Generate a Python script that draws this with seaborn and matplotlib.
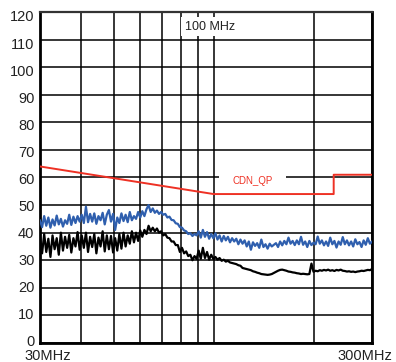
import numpy as np
import pandas as pd
import matplotlib
matplotlib.use("Agg")
import matplotlib.pyplot as plt
import matplotlib.transforms as mtransforms
import seaborn as sns

# ---------------- data ----------------
blue_db = [
    44.5, 42.0, 46.0, 42.5, 45.5, 41.8, 44.8, 42.6, 46.2, 43.0, 45.0, 42.2, 44.5, 43.2, 46.5, 42.8, 45.8, 43.5, 46.0, 44.0,
    46.5, 43.5, 49.4, 43.8, 46.8, 44.0, 47.0, 43.2, 46.0, 44.5, 47.2, 43.0, 46.5, 48.2, 44.0, 46.8,
    41.0, 45.5, 43.5, 47.0, 44.2, 46.5, 43.8, 47.5, 44.5, 46.0, 45.0, 47.5, 45.5,
    47.8, 46.0, 48.5, 50.0, 47.5, 48.8, 47.2,
    48.0, 46.8, 47.5, 46.5, 46.8, 45.5, 45.8, 44.6, 44.5, 43.4, 43.2, 42.0, 41.8, 40.8, 40.5, 39.5, 39.8, 38.8, 39.5, 39.0,
    40.5, 38.2, 41.0, 38.5, 40.2, 37.8, 39.5, 38.0,
    39.8, 37.5, 39.0, 36.8, 38.8, 37.2, 38.5, 36.5, 38.0, 36.8, 37.8, 35.8, 37.5,
    36.0, 37.2, 35.0, 36.8, 33.8, 36.5, 35.2, 36.2, 34.5, 37.5, 34.8, 35.8, 34.2, 36.0, 35.0, 35.6,
    36.2, 34.8, 36.8, 35.4, 37.0, 35.8, 38.2, 36.0, 37.0,
    35.5, 37.2, 35.8, 38.5, 35.6, 36.8, 34.8, 37.0, 35.5, 36.4, 35.8, 38.6, 36.0, 37.2, 35.4, 36.8, 35.2, 38.2, 35.8, 37.0,
    34.6, 36.8, 35.6, 38.4, 35.8, 37.2, 35.4, 36.8, 35.0, 37.6, 35.8, 36.6, 34.8, 37.2, 35.6, 38.0, 36.0, 36.8,
]

black_db = [
    38.5, 32.5, 39.5, 33.0, 37.8, 31.2, 39.0, 34.0, 38.0, 32.0, 40.0, 33.5, 38.5, 34.5, 39.2, 32.8, 38.0, 35.0, 40.2, 33.8,
    39.0, 34.5, 40.0, 33.0, 38.5, 34.8, 39.5, 32.5, 38.2, 35.0, 40.5, 33.2, 39.0, 34.0, 38.8, 32.8,
    38.0, 33.5, 39.5, 34.2, 40.0, 35.0, 39.0, 36.0, 40.5, 36.5, 40.0, 37.0, 40.8,
    38.5, 41.0, 39.5, 42.5, 40.5, 41.8, 40.5,
    41.5, 40.0, 40.5, 39.0, 39.5, 38.2, 38.0, 36.8, 36.8, 35.5, 35.5, 33.0, 34.5, 32.5, 33.2, 31.5, 32.0, 30.0, 31.5, 30.5,
    33.5, 30.5, 34.5, 30.8, 33.0, 30.2, 32.0, 30.5,
    31.2, 30.2, 30.8, 29.8, 30.2, 29.5, 29.8, 29.2, 29.0, 28.8, 28.6, 28.2, 28.0,
    27.2, 27.0, 26.8, 26.6, 26.4, 26.0, 25.8, 25.5, 25.3, 25.0, 24.9, 24.8, 24.7, 24.8, 25.0, 25.4,
    25.8, 26.2, 26.5, 26.6, 26.4, 26.2, 25.9, 25.8, 25.6,
    25.5, 25.3, 25.2, 25.0, 25.1, 25.0, 24.9, 25.0, 28.8, 25.8, 26.2, 26.0, 26.4, 26.2, 26.5, 26.3, 26.6, 26.2, 26.4, 26.1,
    26.5, 26.3, 26.6, 26.2, 26.1, 25.9, 26.0, 25.8, 25.9, 25.7, 25.9, 26.0, 26.2, 26.1, 26.3, 26.5, 26.4, 26.8,
]

limit_freq = [30, 100, 230, 230, 300]
limit_db = [64, 54, 54, 61, 61]

y_ticks = list(range(0, 121, 10))
x_grid_freqs = [40, 50, 60, 70, 80, 90, 100, 200]
x_tick_freqs = [30, 300]
x_tick_labels = ["30MHz", "300MHz"]

# ---------------- frames ----------------
blue_freq = np.geomspace(30, 300, len(blue_db))
black_freq = np.geomspace(30, 300, len(black_db))
df_blue = pd.DataFrame({"freq": blue_freq, "level": blue_db})
df_black = pd.DataFrame({"freq": black_freq, "level": black_db})
df_limit = pd.DataFrame({"freq": limit_freq, "level": limit_db})

sns.set_style("white")
plt.rcParams["font.family"] = ["Liberation Sans", "DejaVu Sans"]

fig = plt.figure(figsize=(3.96, 3.62), dpi=100)
ax = fig.add_axes([40 / 396, 19 / 362, 332 / 396, 331 / 362])

sns.lineplot(data=df_black, x="freq", y="level", color="black", lw=1.6,
             estimator=None, sort=False, ax=ax, zorder=3)
sns.lineplot(data=df_blue, x="freq", y="level", color="#2f5fae", lw=1.6,
             estimator=None, sort=False, ax=ax, zorder=3)
sns.lineplot(data=df_limit, x="freq", y="level", color="#ee3124", lw=1.4,
             estimator=None, sort=False, ax=ax, zorder=6)

ax.set_xscale("log")
ax.set_xlim(30, 300)
ax.set_ylim(0, 120)
ax.set_xticks(x_tick_freqs)
ax.set_xticklabels(x_tick_labels)
ax.set_xticks(x_grid_freqs, minor=True)
ax.xaxis.set_minor_formatter(matplotlib.ticker.NullFormatter())
ax.set_yticks(y_ticks)
ax.set_yticklabels([str(v) for v in y_ticks])
ax.set_xlabel("")
ax.set_ylabel("")

ax.grid(True, which="both", axis="both", color="black", lw=1.1, zorder=1)
ax.set_axisbelow(True)
ax.tick_params(axis="both", which="both", length=0, labelsize=10.5,
               labelcolor="#222222")
ax.tick_params(axis="y", pad=4)
ax.tick_params(axis="x", pad=4)

for side in ["left", "bottom", "right"]:
    ax.spines[side].set_color("black")
    ax.spines[side].set_linewidth(2.0)
ax.spines["top"].set_color("#333333")
ax.spines["top"].set_linewidth(1.6)

# label offsets (reference labels are slightly compressed vertically)
for lab, v in zip(ax.get_yticklabels(), y_ticks):
    off = 4 - (120 - v) / 120 * 6
    lab.set_transform(lab.get_transform() +
                      mtransforms.ScaledTranslation(0, -off / 100, fig.dpi_scale_trans))
xl = ax.get_xticklabels()
xl[0].set_transform(xl[0].get_transform() + mtransforms.ScaledTranslation(8 / 100, 0, fig.dpi_scale_trans))
xl[1].set_transform(xl[1].get_transform() + mtransforms.ScaledTranslation(-7 / 100, 0, fig.dpi_scale_trans))

ax.text(97.3, 114.7, "100 MHz", fontsize=9, color="#222222", ha="center", va="center",
        bbox=dict(boxstyle="square,pad=0.3", fc="white", ec="none"), zorder=4)
ax.text(131.0, 58.9, "CDN_QP", fontsize=7, color="#ee3124", ha="center", va="center",
        bbox=dict(boxstyle="square,pad=1.4", fc="white", ec="none"), zorder=4)

fig.savefig("out.png", dpi=100)
